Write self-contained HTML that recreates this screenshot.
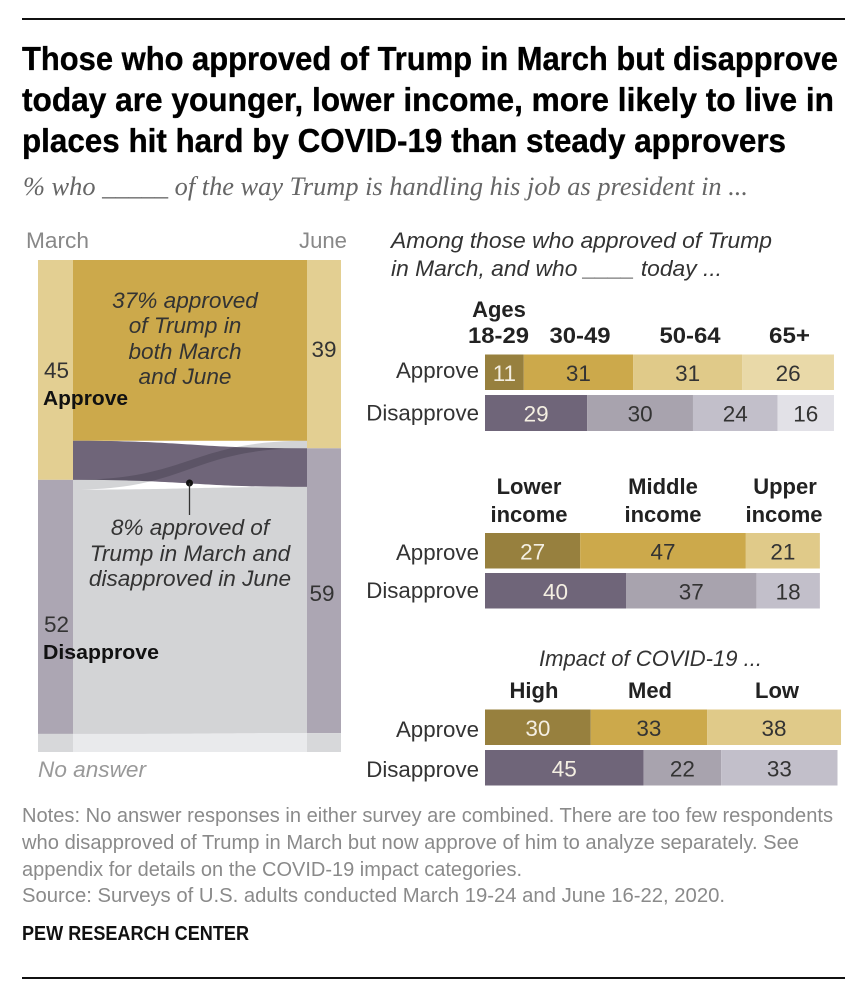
<!DOCTYPE html>
<html lang="en">
<head>
<meta charset="utf-8">
<title>Those who approved of Trump in March but disapprove today</title>
<style>
html,body{margin:0;padding:0;background:#fff;width:862px;height:998px;overflow:hidden}
svg{display:block;font-family:"Liberation Sans",sans-serif;filter:blur(0.35px)}
.title{font-weight:700;font-size:33px;fill:#000;stroke:#000;stroke-width:0.35px}
.sub{font-family:"Liberation Serif",serif;font-style:italic;font-size:26px;fill:#666}
.lab{font-size:22px;fill:#333}
.head{font-size:22px;font-weight:700;fill:#222}
.it{font-style:italic;font-size:22.6px;fill:#333}
.note{font-size:20px;fill:#8a8a8a}
</style>
</head>
<body>
<svg id="chart" width="862" height="998" viewBox="0 0 862 998" xmlns="http://www.w3.org/2000/svg">
<rect x="0" y="0" width="862" height="998" fill="#fff"/>
<rect x="22" y="18" width="823" height="2" fill="#111"/>
<text class="title" x="22" y="70" textLength="816" lengthAdjust="spacingAndGlyphs">Those who approved of Trump in March but disapprove</text>
<text class="title" x="22" y="111" textLength="812" lengthAdjust="spacingAndGlyphs">today are younger, lower income, more likely to live in</text>
<text class="title" x="22" y="152" textLength="764" lengthAdjust="spacingAndGlyphs">places hit hard by COVID-19 than steady approvers</text>
<text class="sub" x="23" y="195" textLength="725" lengthAdjust="spacingAndGlyphs">% who _____ of the way Trump is handling his job as president in ...</text>

<g id="sankey"></g>
<text class="lab" x="26" y="248" style="fill:#888" textLength="63" lengthAdjust="spacingAndGlyphs">March</text>
<text class="lab" x="299" y="248" style="fill:#888" textLength="48" lengthAdjust="spacingAndGlyphs">June</text>
<g text-anchor="middle">
<text class="it" x="185" y="308">37% approved</text>
<text class="it" x="185" y="333">of Trump in</text>
<text class="it" x="185" y="359">both March</text>
<text class="it" x="185" y="384">and June</text>
</g>
<text x="43" y="405" font-size="20" font-weight="700" fill="#111" textLength="85" lengthAdjust="spacingAndGlyphs">Approve</text>
<text x="43" y="659" font-size="20" font-weight="700" fill="#111" textLength="116" lengthAdjust="spacingAndGlyphs">Disapprove</text>
<circle cx="189.5" cy="483" r="3.5" fill="#111"/>
<line x1="189.5" y1="483" x2="189.5" y2="515" stroke="#333" stroke-width="1.3"/>
<g text-anchor="middle">
<text class="it" x="190" y="535">8% approved of</text>
<text class="it" x="190" y="561">Trump in March and</text>
<text class="it" x="190" y="586">disapproved in June</text>
</g>
<text class="it" x="38" y="777" style="fill:#999" textLength="108" lengthAdjust="spacingAndGlyphs">No answer</text>

<text class="it" x="391" y="248" textLength="381" lengthAdjust="spacingAndGlyphs">Among those who approved of Trump</text>
<text class="it" x="391" y="276" textLength="331" lengthAdjust="spacingAndGlyphs">in March, and who ____ today ...</text>

<g text-anchor="middle">
<text class="head" x="499" y="317">Ages</text>
<text class="head" x="498.5" y="343" textLength="61" lengthAdjust="spacingAndGlyphs">18-29</text>
<text class="head" x="580" y="343" textLength="61" lengthAdjust="spacingAndGlyphs">30-49</text>
<text class="head" x="690" y="343" textLength="61" lengthAdjust="spacingAndGlyphs">50-64</text>
<text class="head" x="789.5" y="343" textLength="41" lengthAdjust="spacingAndGlyphs">65+</text>
</g>
<g text-anchor="middle">
<text class="head" x="529" y="494">Lower</text>
<text class="head" x="529" y="522">income</text>
<text class="head" x="663" y="494">Middle</text>
<text class="head" x="663" y="522">income</text>
<text class="head" x="785" y="494">Upper</text>
<text class="head" x="784" y="522">income</text>
</g>
<text class="it" x="539" y="666" textLength="223" lengthAdjust="spacingAndGlyphs">Impact of COVID-19 ...</text>
<g text-anchor="middle">
<text class="head" x="534" y="698">High</text>
<text class="head" x="650" y="698">Med</text>
<text class="head" x="777" y="698">Low</text>
</g>
<g id="bars"></g>

<text class="note" x="22" y="822" textLength="811" lengthAdjust="spacingAndGlyphs">Notes: No answer responses in either survey are combined. There are too few respondents</text>
<text class="note" x="22" y="849" textLength="777" lengthAdjust="spacingAndGlyphs">who disapproved of Trump in March but now approve of him to analyze separately. See</text>
<text class="note" x="22" y="876" textLength="500" lengthAdjust="spacingAndGlyphs">appendix for details on the COVID-19 impact categories.</text>
<text class="note" x="22" y="902" textLength="703" lengthAdjust="spacingAndGlyphs">Source: Surveys of U.S. adults conducted March 19-24 and June 16-22, 2020.</text>
<text x="22" y="940" font-size="20" font-weight="700" fill="#111" textLength="227" lengthAdjust="spacingAndGlyphs">PEW RESEARCH CENTER</text>
<rect x="22" y="977" width="823" height="2" fill="#111"/>
</svg>
<script>
// Sankey data (percent)
const marchShares = [45, 52, 3.7];
const juneShares = [39, 59, 3.9];
const bothApproved = [37];
const approveToDisapprove = [8];
const disapproveToApprove = [2];

// Bar data (percent)
const ageApprove = [11, 31, 31, 26];
const ageDisapprove = [29, 30, 24, 16];
const incomeApprove = [27, 47, 21];
const incomeDisapprove = [40, 37, 18];
const covidApprove = [30, 33, 38];
const covidDisapprove = [45, 22, 33];

const NS = 'http://www.w3.org/2000/svg';
const sankeyGroup = document.getElementById('sankey');
const barsGroup = document.getElementById('bars');

function sum(a) { return a.reduce(function (p, c) { return p + c; }, 0); }

// Axis functions
const sankeyTop = 260;
const sankeyHeight = 492;
function marchY(v) { return sankeyTop + v / sum(marchShares) * sankeyHeight; }
function juneY(v) { return sankeyTop + v / sum(juneShares) * sankeyHeight; }
const barLeft = 485;
function barX(v) { return barLeft + v * 3.525; }

function addRect(parent, name, x, y, w, h, fill) {
  const r = document.createElementNS(NS, 'rect');
  r.setAttribute('x', x);
  r.setAttribute('y', y);
  r.setAttribute('width', w);
  r.setAttribute('height', h);
  r.setAttribute('fill', fill);
  
  
  parent.appendChild(r);
  return r;
}
function addValue(parent, name, x, y, str, fill) {
  const t = document.createElementNS(NS, 'text');
  t.setAttribute('x', x);
  t.setAttribute('y', y);
  t.setAttribute('font-size', '22.5');
  t.setAttribute('fill', fill);
  t.setAttribute('text-anchor', 'middle');
  t.textContent = str;
  
  
  parent.appendChild(t);
  return t;
}
function addFlow(name, x0, x1, topL, botL, topR, botR, fill, blend) {
  const p = document.createElementNS(NS, 'path');
  const m = (x0 + x1) / 2;
  p.setAttribute('d',
    'M' + x0 + ' ' + topL +
    ' C' + m + ' ' + topL + ' ' + m + ' ' + topR + ' ' + x1 + ' ' + topR +
    ' L' + x1 + ' ' + botR +
    ' C' + m + ' ' + botR + ' ' + m + ' ' + botL + ' ' + x0 + ' ' + botL + ' Z');
  p.setAttribute('fill', fill);
  if (blend) { p.style.mixBlendMode = 'multiply'; }
  
  
  sankeyGroup.appendChild(p);
}

// Sankey columns and flows
const colL0 = 38, colL1 = 73, colR0 = 307, colR1 = 341;
const mA = marchY(marchShares[0]);
const mD = marchY(marchShares[0] + marchShares[1]);
const mN = marchY(sum(marchShares));
const jA = juneY(juneShares[0]);
const jD = juneY(juneShares[0] + juneShares[1]);
const jN = juneY(sum(juneShares));
const stableBottom = marchY(bothApproved[0]);
const switchEndLeft = marchY(bothApproved[0] + approveToDisapprove[0]);
const returnEndLeft = marchY(marchShares[0] + disapproveToApprove[0]);
const returnEndRight = juneY(juneShares[0]);
const switchEndRight = juneY(juneShares[0] + approveToDisapprove[0]);

addRect(sankeyGroup, 'flow-no-answer', colL1, Math.min(mD, jD), colR0 - colL1, mN - Math.min(mD, jD), '#e9eaec');
addRect(sankeyGroup, 'flow-stayed-approve', colL1, sankeyTop, colR0 - colL1, stableBottom - sankeyTop, '#cca94b');
addFlow('flow-stayed-disapprove', colL1, colR0, returnEndLeft, mD, switchEndRight, jD, '#d3d4d6');
addFlow('flow-approve-to-disapprove', colL1, colR0, stableBottom, switchEndLeft, returnEndRight, switchEndRight, '#6f6579');
addFlow('flow-disapprove-to-approve', colL1, colR0, switchEndLeft, returnEndLeft, stableBottom, returnEndRight, '#d3d4d6', true);
addRect(sankeyGroup, 'march-approve-column', colL0, sankeyTop, colL1 - colL0, mA - sankeyTop, '#e3cf92');
addRect(sankeyGroup, 'march-disapprove-column', colL0, mA, colL1 - colL0, mD - mA, '#aca6b3');
addRect(sankeyGroup, 'march-no-answer-column', colL0, mD, colL1 - colL0, mN - mD, '#d7d8da');
addRect(sankeyGroup, 'june-approve-column', colR0, sankeyTop, colR1 - colR0, jA - sankeyTop, '#e3cf92');
addRect(sankeyGroup, 'june-disapprove-column', colR0, jA, colR1 - colR0, jD - jA, '#aca6b3');
addRect(sankeyGroup, 'june-no-answer-column', colR0, jD, colR1 - colR0, jN - jD, '#d7d8da');
addValue(sankeyGroup, 'march-approve-value', 56.5, 378, String(marchShares[0]), '#333');
addValue(sankeyGroup, 'march-disapprove-value', 56.5, 632, String(marchShares[1]), '#333');
addValue(sankeyGroup, 'june-approve-value', 324, 357, String(juneShares[0]), '#333');
addValue(sankeyGroup, 'june-disapprove-value', 322, 601, String(juneShares[1]), '#333');

// Stacked bars
const goldFills = ['#97803e', '#cca94b', '#e0ca89', '#e9d9a8'];
const goldFills3 = ['#97803e', '#cca94b', '#e0ca89'];
const purpleFills = ['#6f6579', '#a8a3ae', '#c2bfca', '#e2e1e7'];
const purpleFills3 = ['#6f6579', '#a8a3ae', '#c2bfca'];

function drawBar(name, label, values, y, h, fills, labelY) {
  let cum = 0;
  const lt = document.createElementNS(NS, 'text');
  lt.setAttribute('x', 479);
  lt.setAttribute('y', labelY);
  lt.setAttribute('font-size', '22.3');
  lt.setAttribute('fill', '#333');
  lt.setAttribute('text-anchor', 'end');
  lt.textContent = label;
  
  
  barsGroup.appendChild(lt);
  values.forEach(function (v, i) {
    const x0 = barX(cum);
    const x1 = barX(cum + v);
    addRect(barsGroup, name + '-segment', x0, y, x1 - x0, h, fills[i]);
    addValue(barsGroup, name + '-value', (x0 + x1) / 2, y + h / 2 + 8.6, String(v), i === 0 ? '#f4efe2' : '#333');
    cum += v;
  });
}
drawBar('age-approve', 'Approve', ageApprove, 354.5, 35.5, goldFills, 378);
drawBar('age-disapprove', 'Disapprove', ageDisapprove, 395, 36, purpleFills, 420.5);
drawBar('income-approve', 'Approve', incomeApprove, 533, 35.5, goldFills3, 560);
drawBar('income-disapprove', 'Disapprove', incomeDisapprove, 573, 35.5, purpleFills3, 598);
drawBar('covid-approve', 'Approve', covidApprove, 709.5, 35.5, goldFills3, 737);
drawBar('covid-disapprove', 'Disapprove', covidDisapprove, 750, 35.5, purpleFills3, 777);
</script>
</body>
</html>
